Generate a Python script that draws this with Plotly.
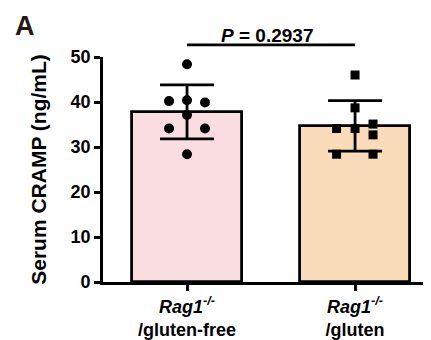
import plotly.graph_objects as go

# ---- data ----
categories = ["<b><i>Rag1</i><sup><i>-/-</i></sup></b><br><b>/gluten-free</b>",
              "<b><i>Rag1</i><sup><i>-/-</i></sup></b><br><b>/gluten</b>"]
means = [37.8, 34.7]
sds = [6.0, 5.6]
gf_values = [48.4, 40.2, 40.4, 39.9, 37.1, 34.1, 34.1, 28.4]
gf_jitter = [0.0, -0.107, 0.0, 0.107, 0.0, -0.107, 0.107, 0.0]
gl_values = [46.0, 38.7, 34.1, 34.1, 35.1, 32.7, 28.4, 28.4]
gl_jitter = [0.0, 0.0, -0.11, 0.0, 0.107, 0.107, -0.11, 0.107]
y_ticks = [0, 10, 20, 30, 40, 50]
p_label = "<b><i>P</i> = 0.2937</b>"
sig_y = 52.7
Y_MAX = 50
X_RANGE = [-0.5, 1.452]

bar_colors = ["#F9DDE0", "#FADBBA"]
FONT = "Arial, Liberation Sans, sans-serif"

# the page body adds an 8px offset, so the figure is 8px smaller
W, H = 423, 332
ML, MR, MT = 95, 0, 49
PH = 225
MB = H - MT - PH
PW = W - ML - MR

fig = go.Figure()
xpos = list(range(len(categories)))
fig.add_trace(go.Bar(
    x=xpos, y=means, width=0.65,
    marker=dict(color=bar_colors, line=dict(color="black", width=2.8)),
    error_y=dict(type="data", array=sds, visible=True, color="black",
                 thickness=2.8, width=27),
    showlegend=False,
))
fig.add_trace(go.Scatter(
    x=[0 + j for j in gf_jitter], y=gf_values, mode="markers",
    marker=dict(symbol="circle", size=10, color="black"),
    cliponaxis=False, showlegend=False,
))
fig.add_trace(go.Scatter(
    x=[1 + j for j in gl_jitter], y=gl_values, mode="markers",
    marker=dict(symbol="square", size=9, color="black"),
    cliponaxis=False, showlegend=False,
))

# significance bar (paper coords derived from data scales)
def xp(v):
    return (v - X_RANGE[0]) / (X_RANGE[1] - X_RANGE[0])

fig.add_shape(type="line", xref="paper", yref="paper",
              x0=xp(0), x1=xp(1), y0=sig_y / Y_MAX, y1=sig_y / Y_MAX,
              line=dict(color="black", width=2.8))
fig.add_annotation(x=xp(0.5) - 0.012, y=sig_y / Y_MAX, xref="paper", yref="paper",
                   text=p_label, showarrow=False, yanchor="bottom", yshift=-3,
                   font=dict(family=FONT, size=19, color="black"))
# panel letter near the top-left corner of the figure
fig.add_annotation(x=(5 - ML) / PW, y=(H - MB - 1) / PH, xref="paper", yref="paper",
                   xanchor="left", yanchor="top",
                   text="<b>A</b>", showarrow=False,
                   font=dict(family=FONT, size=27, color="#231815"))

fig.update_layout(
    width=W, height=H,
    margin=dict(l=ML, r=MR, t=MT, b=MB, autoexpand=False),
    paper_bgcolor="white", plot_bgcolor="white",
    font=dict(family=FONT, color="black"),
    bargap=0,
)
fig.update_xaxes(
    range=X_RANGE, tickvals=xpos, ticktext=categories, automargin=False,
    showline=True, linecolor="black", linewidth=2.8,
    ticks="outside", ticklen=6, tickwidth=2.8, tickcolor="black",
    tickfont=dict(family=FONT, size=18, color="black"),
    showgrid=False, zeroline=False,
)
fig.update_yaxes(
    range=[0, Y_MAX], tickvals=y_ticks, automargin=False,
    showline=True, linecolor="black", linewidth=2.8,
    ticks="outside", ticklen=6, tickwidth=2.8, tickcolor="black",
    tickfont=dict(family=FONT, size=18, color="black", weight="bold"),
    showgrid=False, zeroline=False,
    title=dict(text="<b>Serum CRAMP (ng/mL)</b>", standoff=19,
               font=dict(family=FONT, size=21, color="black")),
)

fig.write_html("out.html")
